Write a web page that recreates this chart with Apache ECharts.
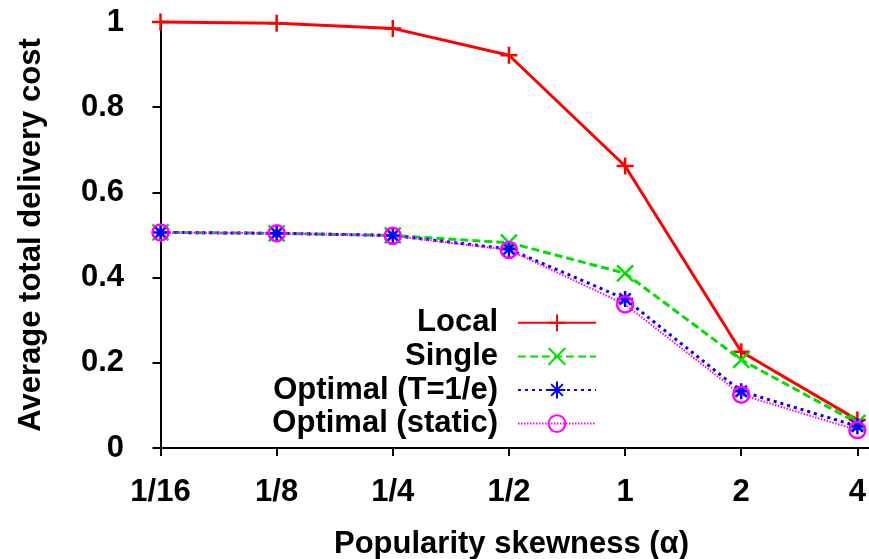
<!DOCTYPE html>
<html>
<head>
<meta charset="utf-8">
<script src="https://cdn.jsdelivr.net/npm/echarts@6/dist/echarts.min.js"></script>
<style>
html,body{margin:0;padding:0;background:#fff;}
#c{width:869px;height:559px;}
</style>
</head>
<body>
<div id="c"></div>
<script>
var categories = ['1/16', '1/8', '1/4', '1/2', '1', '2', '4'];
var yTicks = [0, 0.2, 0.4, 0.6, 0.8, 1];
var seriesNames = ['Local', 'Single', 'Optimal (T=1/e)', 'Optimal (static)'];
var localVals   = [1.000, 0.997, 0.985, 0.922, 0.662, 0.226, 0.066];
var singleVals  = [0.506, 0.504, 0.499, 0.482, 0.410, 0.207, 0.059];
var optTVals    = [0.506, 0.504, 0.499, 0.467, 0.350, 0.133, 0.051];
var optStatVals = [0.506, 0.504, 0.498, 0.465, 0.337, 0.125, 0.042];

var FONT = '"Liberation Sans", Arial, Helvetica, sans-serif';
function pts(vals){ return vals.map(function(v,i){ return [i, v]; }); }
var idx = categories.map(function(_, i){ return i; });

var txt = { fontFamily: FONT, fontSize: 31, fontWeight: 'bold', color: '#000' };

var chart = echarts.init(document.getElementById('c'), null, {renderer: 'canvas'});
chart.setOption({
  animation: false,
  backgroundColor: '#fff',
  grid: { left: 154, right: 0, top: 22, bottom: 111, containLabel: false, outerBoundsMode: 'none' },
  legend: {
    orient: 'vertical',
    align: 'right',
    right: 272,
    top: 306,
    padding: 0,
    itemGap: 0,
    itemWidth: 78,
    itemHeight: 21,
    data: seriesNames,
    textStyle: Object.assign({}, txt, { lineHeight: 33.6, padding: [0, 15, 0, 0] })
  },
  xAxis: {
    type: 'value',
    min: -0.056,
    max: 6.1,
    name: 'Popularity skewness (α)',
    nameLocation: 'middle',
    nameGap: 81,
    nameTextStyle: txt,
    splitLine: { show: false },
    axisLine: { show: true, onZero: false, lineStyle: { color: '#000', width: 2 } },
    axisTick: { show: true, length: 8, customValues: idx, lineStyle: { color: '#000', width: 2 } },
    axisLabel: Object.assign({}, txt, {
      margin: 29,
      customValues: idx,
      formatter: function(v){ return categories[Math.round(v)]; }
    })
  },
  yAxis: {
    type: 'value',
    min: 0,
    max: 1,
    interval: 0.2,
    name: 'Average total delivery cost',
    nameLocation: 'middle',
    nameGap: 107,
    nameTextStyle: txt,
    splitLine: { show: false },
    axisLine: { show: true, lineStyle: { color: '#000', width: 2 } },
    axisTick: { show: true, length: 8, lineStyle: { color: '#000', width: 2 } },
    axisLabel: Object.assign({}, txt, { margin: 30 })
  },
  series: [
    {
      name: seriesNames[0], type: 'line', data: pts(localVals), clip: false,
      symbol: 'path://M0,5L10,5M5,0L5,10', symbolSize: 17,
      lineStyle: { color: '#ff0000', width: 3, type: 'solid' },
      itemStyle: { color: '#ff0000', borderColor: '#ff0000', borderWidth: 2.5 }
    },
    {
      name: seriesNames[1], type: 'line', data: pts(singleVals), clip: false,
      symbol: 'path://M0,0L10,10M10,0L0,10', symbolSize: 16,
      lineStyle: { color: '#00e000', width: 3, type: [8, 4] },
      itemStyle: { color: '#00e000', borderColor: '#00e000', borderWidth: 2.5 }
    },
    {
      name: seriesNames[2], type: 'line', data: pts(optTVals), clip: false,
      symbol: 'path://M0,5L10,5M5,0L5,10M1.5,1.5L8.5,8.5M8.5,1.5L1.5,8.5', symbolSize: 16,
      lineStyle: { color: '#0000ff', width: 3, type: [3, 4] },
      itemStyle: { color: '#0000ff', borderColor: '#0000ff', borderWidth: 2.5 }
    },
    {
      name: seriesNames[3], type: 'line', data: pts(optStatVals), clip: false,
      symbol: 'circle', symbolSize: 16,
      lineStyle: { color: '#ff00ff', width: 2, type: [1.5, 1.5] },
      itemStyle: { color: 'rgba(0,0,0,0)', borderColor: '#ff00ff', borderWidth: 2.5 }
    }
  ]
});
</script>
</body>
</html>
